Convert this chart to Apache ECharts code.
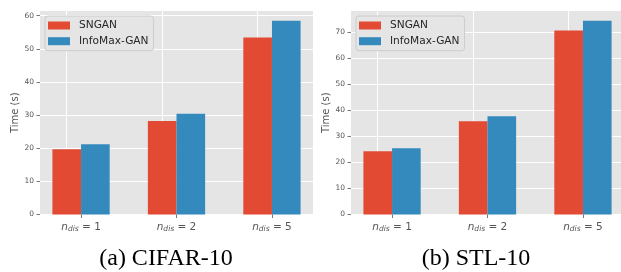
<!DOCTYPE html>
<html>
<head>
<meta charset="utf-8">
<script src="https://cdn.jsdelivr.net/npm/echarts@6/dist/echarts.min.js"></script>
<style>
html,body{margin:0;padding:0;background:#fff;}
#chart{width:621px;height:272px;}
</style>
</head>
<body>
<div id="chart"></div>
<script>
// ---- data ----
const categories = ['1', '2', '5'];            // n_dis values
const seriesNames = ['SNGAN', 'InfoMax-GAN'];
const snganCifar = [19.7, 28.2, 53.4];
const infomaxCifar = [21.2, 30.4, 58.5];
const snganStl = [24.3, 35.8, 70.6];
const infomaxStl = [25.4, 37.7, 74.4];
const yTicksCifar = [0, 10, 20, 30, 40, 50, 60];
const yTicksStl = [0, 10, 20, 30, 40, 50, 60, 70];
const captions = ['(a) CIFAR-10', '(b) STL-10'];
const yTitle = 'Time (s)';

// ---- style ----
const RED = '#E24A33', BLUE = '#348ABD', BG = '#E5E5E5', TXT = '#555555';
const FONT = 'DejaVu Sans';

const catIdx = categories.map((c, i) => i);
const xTicks = catIdx;

function xAxisCfg(gi) {
  return {
    type: 'value', gridIndex: gi, min: -0.43, max: categories.length - 1 + 0.43,
    axisLine: { show: false, onZero: false },
    axisTick: { show: true, length: 3.5, customValues: xTicks, lineStyle: { color: TXT, width: 0.8 } },
    axisLabel: {
      customValues: xTicks, margin: 6, color: TXT,
      formatter: v => '{n|n}{s|dis}{e| = ' + categories[Math.round(v)] + '}',
      rich: {
        n: { fontFamily: FONT, fontStyle: 'italic', fontSize: 10.5, color: TXT },
        s: { fontFamily: FONT, fontStyle: 'italic', fontSize: 7.5, color: TXT, padding: [5, 0, 0, 0] },
        e: { fontFamily: FONT, fontSize: 10.5, color: TXT }
      }
    },
    splitLine: { show: false }
  };
}
function yAxisCfg(gi, ticks, maxV) {
  return {
    type: 'value', gridIndex: gi, min: 0, max: maxV,
    name: yTitle, nameLocation: 'middle', nameGap: 18,
    nameTextStyle: { fontFamily: FONT, fontSize: 10, color: TXT },
    axisLine: { show: false, onZero: false },
    axisTick: { show: true, length: 3.5, customValues: ticks, lineStyle: { color: TXT, width: 0.8 } },
    axisLabel: { customValues: ticks, margin: 6, fontFamily: FONT, fontSize: 7.5, color: TXT },
    splitLine: { show: true, lineStyle: { color: '#ffffff', width: 1 } }
  };
}
function barSeries(name, vals, gi, color, withGrid) {
  const s = {
    type: 'bar', name: name, xAxisIndex: gi, yAxisIndex: gi,
    data: vals.map((v, i) => [catIdx[i], v]),
    barWidth: '30%', barGap: '0%',
    itemStyle: { color: color }
  };
  if (withGrid) {
    s.markLine = {
      silent: true, symbol: 'none', z: 1, animation: false,
      label: { show: false },
      emphasis: { disabled: true },
      lineStyle: { color: '#ffffff', width: 1, type: 'solid' },
      data: xTicks.map(v => ({ xAxis: v }))
    };
  }
  return s;
}
function legendCfg(left) {
  return {
    data: seriesNames, orient: 'vertical', left: left, top: 16,
    icon: 'rect', itemWidth: 22, itemHeight: 8, itemGap: 2.7,
    padding: [3, 5, 3, 3],
    backgroundColor: BG, borderColor: '#CCCCCC', borderWidth: 1, borderRadius: 3,
    textStyle: { fontFamily: FONT, fontSize: 10.6, color: '#262626', lineHeight: 13, padding: [0, 0, 0, 4] }
  };
}

const maxC = Math.max(...snganCifar, ...infomaxCifar) * 1.05;
const maxS = Math.max(...snganStl, ...infomaxStl) * 1.05;

const chart = echarts.init(document.getElementById('chart'), null, { renderer: 'canvas' });
chart.setOption({
  animation: false,
  backgroundColor: '#ffffff',
  title: [
    { text: captions[0], left: 161, top: 242, textAlign: 'center',
      textStyle: { fontFamily: 'Liberation Serif', fontSize: 24, fontWeight: 'normal', color: '#000' } },
    { text: captions[1], left: 471, top: 242, textAlign: 'center',
      textStyle: { fontFamily: 'Liberation Serif', fontSize: 24, fontWeight: 'normal', color: '#000' } }
  ],
  legend: [legendCfg(45), legendCfg(356)],
  grid: [
    { left: 40, top: 11, width: 273, height: 203.5, show: true, backgroundColor: BG, borderWidth: 0, outerBoundsMode: 'none', containLabel: false },
    { left: 351, top: 11, width: 273, height: 203.5, show: true, backgroundColor: BG, borderWidth: 0, outerBoundsMode: 'none', containLabel: false }
  ],
  xAxis: [xAxisCfg(0), xAxisCfg(1)],
  yAxis: [yAxisCfg(0, yTicksCifar, maxC), yAxisCfg(1, yTicksStl, maxS)],
  series: [
    barSeries(seriesNames[0], snganCifar, 0, RED, true),
    barSeries(seriesNames[1], infomaxCifar, 0, BLUE, false),
    barSeries(seriesNames[0], snganStl, 1, RED, true),
    barSeries(seriesNames[1], infomaxStl, 1, BLUE, false)
  ]
});
</script>
</body>
</html>
